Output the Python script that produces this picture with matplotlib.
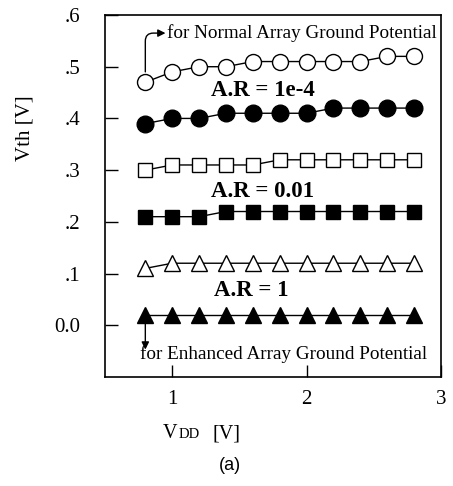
import matplotlib.pyplot as plt
import numpy as np

# supply voltage sweep (V)
vdd = [0.8, 1.0, 1.2, 1.4, 1.6, 1.8, 2.0, 2.2, 2.4, 2.6, 2.8]

# threshold voltage (V) for each series
vth_normal_1e4 = [0.47, 0.49, 0.50, 0.50, 0.51, 0.51, 0.51, 0.51, 0.51, 0.52, 0.52]
vth_enh_1e4 = [0.39, 0.40, 0.40, 0.41, 0.41, 0.41, 0.41, 0.42, 0.42, 0.42, 0.42]
vth_normal_001 = [0.30, 0.31, 0.31, 0.31, 0.31, 0.32, 0.32, 0.32, 0.32, 0.32, 0.32]
vth_enh_001 = [0.21, 0.21, 0.21, 0.22, 0.22, 0.22, 0.22, 0.22, 0.22, 0.22, 0.22]
vth_normal_1 = [0.11, 0.12, 0.12, 0.12, 0.12, 0.12, 0.12, 0.12, 0.12, 0.12, 0.12]
vth_enh_1 = [0.02, 0.02, 0.02, 0.02, 0.02, 0.02, 0.02, 0.02, 0.02, 0.02, 0.02]

yticks = [0.0, 0.1, 0.2, 0.3, 0.4, 0.5, 0.6]
ytick_labels = ["0.0", ".1", ".2", ".3", ".4", ".5", ".6"]
xticks = [1, 2, 3]

plt.rcParams["font.family"] = ["Liberation Serif", "DejaVu Serif"]

fig = plt.figure(figsize=(4.53, 4.86), dpi=100)
ax = fig.add_axes([105 / 453, 1 - 377 / 486, 336 / 453, 362 / 486])

series = [
    (vth_normal_1e4, "o", "white", 11.5),
    (vth_enh_1e4, "o", "black", 12),
    (vth_normal_001, "s", "white", 10),
    (vth_enh_001, "s", "black", 10.5),
    (vth_normal_1, "^", "white", 11.5),
    (vth_enh_1, "^", "black", 12),
]
for ys, mk, fc, ms in series:
    ax.plot(vdd, ys, color="black", lw=1.0, marker=mk, ms=ms,
            mfc=fc, mec="black", mew=1.0)

ax.set_xlim(0.5, 3.0)
ax.set_ylim(-0.1, 0.6)
ax.set_xticks(xticks)
ax.set_xticklabels([str(t) for t in xticks])
ax.set_yticks(yticks)
ax.set_yticklabels(ytick_labels)
ax.tick_params(direction="in", length=9, width=1.0, labelsize=15)
ax.tick_params(axis="y", pad=18)
ax.tick_params(axis="x", pad=9)
for s in ax.spines.values():
    s.set_linewidth(1.2)

# labels for aspect-ratio groups
bold = dict(fontsize=16.5, fontweight="bold", va="center", ha="left")
ax.text(1.29, 0.454, "A.R = 1e-4", **bold)
ax.text(1.29, 0.259, "A.R = 0.01", **bold)
ax.text(1.31, 0.068, "A.R = 1", **bold)

ax.text(0.96, 0.565, "for Normal Array Ground Potential", fontsize=13.8,
        va="center", ha="left")
ax.annotate("", xy=(0.95, 0.565), xytext=(0.8, 0.49),
            arrowprops=dict(arrowstyle="-|>", color="black", lw=1.0,
                            connectionstyle="angle,angleA=90,angleB=0,rad=8",
                            shrinkA=0, shrinkB=0, mutation_scale=11))

ax.text(0.76, -0.055, "for Enhanced Array Ground Potential", fontsize=13.8,
        va="center", ha="left")
ax.annotate("", xy=(0.8, -0.047), xytext=(0.8, 0.012),
            arrowprops=dict(arrowstyle="-|>", color="black", lw=1.0,
                            shrinkA=0, shrinkB=0, mutation_scale=11))

fig.text(25 / 453, 1 - 128 / 486, "Vth [V]", rotation=90, fontsize=15,
         ha="center", va="center")
base = 1 - 438 / 486
fig.text(163 / 453, base, "V", fontsize=14.5, ha="left", va="baseline")
fig.text(179 / 453, base, "DD", fontsize=10.5, ha="left", va="baseline")
fig.text(212 / 453, base, "[V]", fontsize=14.5, ha="left", va="baseline")
fig.text(230 / 453, 1 - 465 / 486, "(a)", fontsize=13, ha="center",
         va="center", family=["Liberation Sans", "DejaVu Sans"])

fig.savefig("out.png", dpi=100, facecolor="white")
